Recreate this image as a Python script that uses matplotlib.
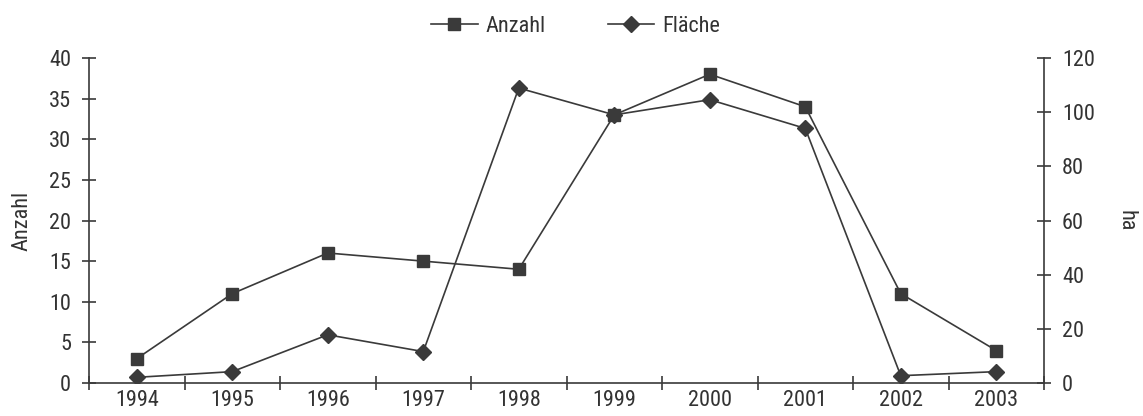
import matplotlib
matplotlib.use('Agg')
import matplotlib.pyplot as plt
from matplotlib import font_manager
from matplotlib.lines import Line2D

years = ['1994', '1995', '1996', '1997', '1998', '1999', '2000', '2001', '2002', '2003']
anzahl = [3, 11, 16, 15, 14, 33, 38, 34, 11, 4]
flaeche = [2.1, 4.2, 17.8, 11.6, 108.9, 99, 104.6, 94, 2.7, 4.2]

# pick a narrow font if one is there
names = set(f.name for f in font_manager.fontManager.ttflist)
family = 'Open Sans'
for cand in ['Liberation Sans Narrow', 'Roboto Condensed', 'Open Sans Condensed', 'Noto Sans Condensed', 'Roboto']:
    if cand in names:
        family = cand
        break
plt.rcParams['font.family'] = [family, 'DejaVu Sans']
col = '#3a3a3a'
txt = '#333333'
fs = 16

fig = plt.figure(figsize=(11.43, 4.16), dpi=100)
ax = fig.add_axes([0.0779, 0.0793, 0.9134 - 0.0779, 0.8606 - 0.0793])
ax2 = ax.twinx()

x = list(range(len(years)))
ax.plot(x, anzahl, color=col, lw=1.2, marker='s', ms=8.5, mfc=col, mec=col, zorder=3)
ax2.plot(x, flaeche, color=col, lw=1.2, marker='D', ms=8, mfc=col, mec=col, zorder=3)

ax.set_xlim(-0.5, len(years) - 0.5)
ax.set_ylim(0, 40)
ax2.set_ylim(0, 120)
ax.set_yticks(range(0, 41, 5))
ax2.set_yticks(range(0, 121, 20))
ax.set_xticks(x)
ax.set_xticklabels(years)
ax.set_xticks([i - 0.5 for i in range(len(years) + 1)], minor=True)
ax.tick_params(axis='x', which='major', length=0, labelsize=fs, labelcolor=txt, pad=5)
ax.tick_params(axis='x', which='minor', direction='inout', length=10, color=col, width=1.2)
ax.tick_params(axis='y', direction='inout', length=10, color=col, width=1.2, labelsize=fs, labelcolor=txt, pad=8)
ax2.tick_params(axis='y', direction='inout', length=10, color=col, width=1.2, labelsize=fs, labelcolor=txt, pad=8)

for a in (ax, ax2):
    a.spines['top'].set_visible(False)
    for s in ('left', 'right', 'bottom'):
        a.spines[s].set_color(col)
        a.spines[s].set_linewidth(1.2)
ax.spines['right'].set_visible(False)
ax2.spines['left'].set_visible(False)
ax2.spines['bottom'].set_visible(False)

ax.set_ylabel('Anzahl', fontsize=fs, color=txt, labelpad=12)
ax2.set_ylabel('ha', fontsize=fs, color=txt, rotation=270, labelpad=30)

handles = [Line2D([], [], color=col, lw=1.2, marker='s', ms=8.5),
           Line2D([], [], color=col, lw=1.2, marker='D', ms=8)]
fig.legend(handles, ['Anzahl', 'Fläche'], loc='upper center', bbox_to_anchor=(0.5035, 1.01),
           ncol=2, frameon=False, fontsize=fs, handlelength=2.1, columnspacing=2.8,
           handletextpad=0.35, labelcolor=txt)

fig.savefig('out.png', dpi=100)
